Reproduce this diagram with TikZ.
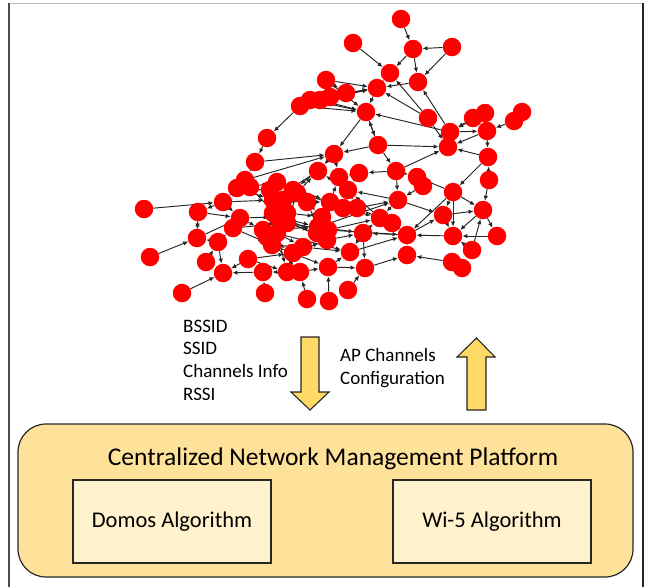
\documentclass[tikz,border=0pt]{standalone}
\usepackage{fontspec}
\setmainfont{Carlito}
\usetikzlibrary{arrows.meta,backgrounds}
\begin{document}
\begin{tikzpicture}[x=1pt,y=-1pt,
  apnode/.style={circle,fill=red,inner sep=0pt,minimum size=18.5pt},
  link/.style={draw=black!85,line width=0.95pt,-{Latex[length=5pt,width=4.5pt]}},
  algbox/.style={draw=black!85,line width=1.2pt,fill=boxcolor,minimum width=198pt,minimum height=83pt,font=\fontsize{22.5}{27}\selectfont},
  bigarrow/.style={draw=black!85,line width=1.1pt,fill=arrowcolor,line join=miter},
  infotext/.style={align=left,anchor=west,inner sep=0pt,font=\fontsize{19}{22.7}\selectfont}]
\definecolor{platformcolor}{RGB}{255,226,153}
\definecolor{boxcolor}{RGB}{255,242,204}
\definecolor{arrowcolor}{RGB}{255,217,102}
\useasboundingbox (0,0) rectangle (650,587);
% frame
\draw[black!25,line width=1pt] (9,3) -- (643,3);
\draw[black!70,line width=1.5pt] (9,3) -- (9,587);
\draw[black!85,line width=1.2pt] (643,3) -- (643,587);
% network graph
\foreach \i/\x/\y in {1/401/19,2/353/43,3/413/49,4/452/47,5/390/73,6/418/82,7/377/88,8/326/80,9/346/93,10/330/97,
  11/320/100,12/310/100,13/300/106,14/366/112,15/428/118,16/473/118,17/485/113,18/522/112,19/514/121,20/450/132,
  21/487/131,22/448/147,23/267/138,24/378/145,25/334/154,26/488/157,27/255/162,28/396/171,29/318/171,30/339/177,
  31/359/173,32/417/177,33/423/186,34/489/180,35/245/180,36/237/188,37/250/187,38/277/182,39/293/190,40/348/190,
  41/453/192,42/144/209,43/198/212,44/223/202,45/273/200,46/307/202,47/330/202,48/343/208,49/357/208,50/398/200,
  51/483/210,52/443/215,53/380/218,54/392/223,55/240/218,56/233/228,57/278/217,58/287/223,59/318/227,60/328/230,
  61/363/233,62/407/235,63/453/236,64/497/236,65/197/238,66/218/242,67/263/230,68/272/245,69/293/253,70/303/247,
  71/327/240,72/350/252,73/407/255,74/472/250,75/452/262,76/462/268,77/150/257,78/206/262,79/248/259,80/223/273,
  81/263/272,82/287/272,83/300/272,84/328/267,85/365/268,86/182/293,87/265/293,88/307/299,89/329/301,90/348/290,
  91/283/200,92/297/193,93/273/213,94/287/213,95/267/237,96/277/233,97/317/233,98/322/217,99/270/190}
  \node[apnode] (n\i) at (\x,\y) {};
\begin{pgfonlayer}{background}
\foreach \a/\b in {1/3,4/3,2/5,3/5,3/6,4/6,7/5,6/7,8/7,9/7,10/7,8/14,11/14,12/14,13/14,7/14,15/7,15/5,20/6,16/20,
  17/20,19/21,20/21,21/22,22/20,24/14,15/22,14/25,24/25,24/22,21/26,26/22,20/14,13/23,23/27,27/25,35/25,24/28,28/22,25/29,
  25/30,34/26,26/41,28/31,31/30,41/51,41/52,41/63,41/62,51/64,51/63,52/51,74/51,34/51,75/73,62/73,50/40,62/61,61/72,
  61/85,85/73,84/85,90/85,89/84,88/83,87/81,86/80,81/80,82/81,83/82,83/84,77/65,42/44,44/43,65/43,43/65,66/65,
  66/80,44/45,45/46,46/47,47/48,48/49,49/50,50/53,53/54,54/62,57/59,58/60,59/61,60/62,67/59,68/70,69/71,70/72,
  71/61,36/45,37/46,38/47,39/48,38/91,91/92,92/29,93/97,94/98,95/69,96/70,55/57,56/58,55/67,56/68,79/69,79/82,
  82/69,84/72,72/62,53/40,40/29,30/40,31/40,28/32,32/33,33/50,50/52,52/63,53/62,60/71,48/40,47/30,35/36,36/37,
  37/38,29/39,39/46,44/55,43/55,55/56,66/56,65/55,78/66,79/80,61/53,64/63,75/76,74/63,63/62,41/32,28/50,
  98/60,97/71,93/95,94/96,91/57,92/58,99/91,45/99,27/35,36/44,57/93,58/94,46/59,47/60,40/49,14/24,62/52,
  8/9,9/10,11/7,12/7,29/45,46/98,48/53,49/54,57/71,58/97,67/72,68/84,95/83,96/82,37/57,38/93,59/50,60/53}
  \draw[link] (n\a) -- (n\b);
\end{pgfonlayer}
% flows
\node[infotext] (uplink) at (183,360) {BSSID\\SSID\\Channels Info\\RSSI};
\node[infotext] (downlink) at (340,368) {AP Channels\\Configuration};
\draw[bigarrow] (301,337) -- (319,337) -- (319,392) -- (329,392) -- (310,410) -- (291,392) -- (301,392) -- cycle;
\draw[bigarrow] (467,410) -- (486,410) -- (486,357) -- (495,357) -- (476.5,338) -- (457,357) -- (467,357) -- cycle;
% platform
\draw[draw=black!85,line width=1.2pt,fill=platformcolor,rounded corners=28pt] (18,424) rectangle (633,577);
\node[font=\fontsize{25.5}{30}\selectfont] (platform) at (333,459) {Centralized Network Management Platform};
\node[algbox] (domos) at (172,521.5) {Domos Algorithm};
\node[algbox] (wifive) at (492,521.5) {Wi-5 Algorithm};
\end{tikzpicture}
\end{document}
